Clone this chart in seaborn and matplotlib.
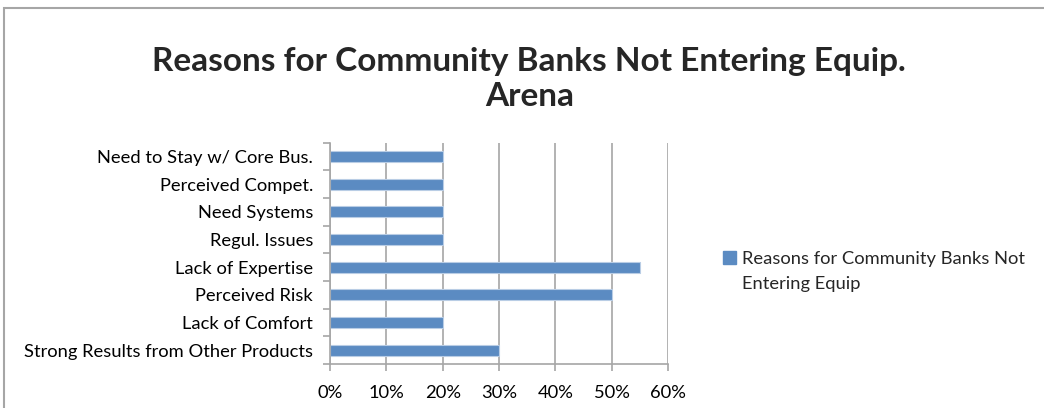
import matplotlib
matplotlib.use("Agg")
import matplotlib.pyplot as plt
import matplotlib.patches as mpatches
from matplotlib.ticker import FuncFormatter, MultipleLocator
import pandas as pd
import seaborn as sns

categories = [
    "Need to Stay w/ Core Bus.",
    "Perceived Compet.",
    "Need Systems",
    "Regul. Issues",
    "Lack of Expertise",
    "Perceived Risk",
    "Lack of Comfort",
    "Strong Results from Other Products",
]
values = [0.20, 0.20, 0.20, 0.20, 0.55, 0.50, 0.20, 0.30]
series_name = "Reasons for Community Banks Not Entering Equip"
legend_lines = ["Reasons for Community Banks Not", "Entering Equip"]
title = "Reasons for Community Banks Not Entering Equip.\nArena"

sns.set_theme(style="white")
plt.rcParams["font.family"] = ["Lato", "DejaVu Sans"]

df = pd.DataFrame({"reason": categories, "share": values})

bar_color = "#5B8BC2"
grid_color = "#A6A6A6"

fig = plt.figure(figsize=(10.44, 4.08), dpi=100)
ax = fig.add_axes([0.316, 0.108, 0.324, 0.542])

sns.barplot(data=df, x="share", y="reason", orient="h", color=bar_color,
            width=0.4, edgecolor="#B9CDE5", linewidth=0.8, ax=ax,
            saturation=1)

ax.set_xlim(0, 0.6)
ax.set_ylim(len(categories) - 0.5, -0.5)
ax.xaxis.set_major_locator(MultipleLocator(0.1))
ax.xaxis.set_major_formatter(FuncFormatter(lambda v, _: f"{v * 100:.0f}%"))
ax.set_xlabel("")
ax.set_ylabel("")

ax.grid(axis="x", color=grid_color, linewidth=1.2)
ax.set_axisbelow(True)
for side in ("top", "right"):
    ax.spines[side].set_visible(False)
for side in ("left", "bottom"):
    ax.spines[side].set_color(grid_color)
    ax.spines[side].set_linewidth(1.2)

# category boundaries carry the tick marks on the value axis
ax.set_yticks([i - 0.5 for i in range(len(categories) + 1)], minor=True)
ax.tick_params(axis="y", which="major", length=0, labelsize=13.2, pad=12,
               colors="black")
ax.tick_params(axis="y", which="minor", length=5, width=1.2, color=grid_color,
               left=True)
ax.tick_params(axis="x", length=5, width=1.2, color=grid_color, bottom=True,
               labelsize=13.2, pad=10.5, labelcolor="black")

fig.text(0.507, 0.727, title, ha="center", va="bottom", fontsize=24,
         fontweight="bold", linespacing=1.28)

handles = [mpatches.Patch(color=bar_color),
           mpatches.Patch(color="none")]
fig.legend(handles=handles, labels=legend_lines, loc="upper left",
           bbox_to_anchor=(0.693, 0.386), frameon=False, fontsize=13.2,
           handlelength=0.7, handleheight=0.7, handletextpad=0.3,
           labelspacing=0.5, borderaxespad=0, borderpad=0)

fig.patches.append(mpatches.Rectangle((4 / 1044, -0.05), 1.1, 1.05 - 8 / 408,
                                      transform=fig.transFigure, fill=False,
                                      edgecolor="#A6A6A6", linewidth=1.5))

fig.savefig("out.png", dpi=100)
